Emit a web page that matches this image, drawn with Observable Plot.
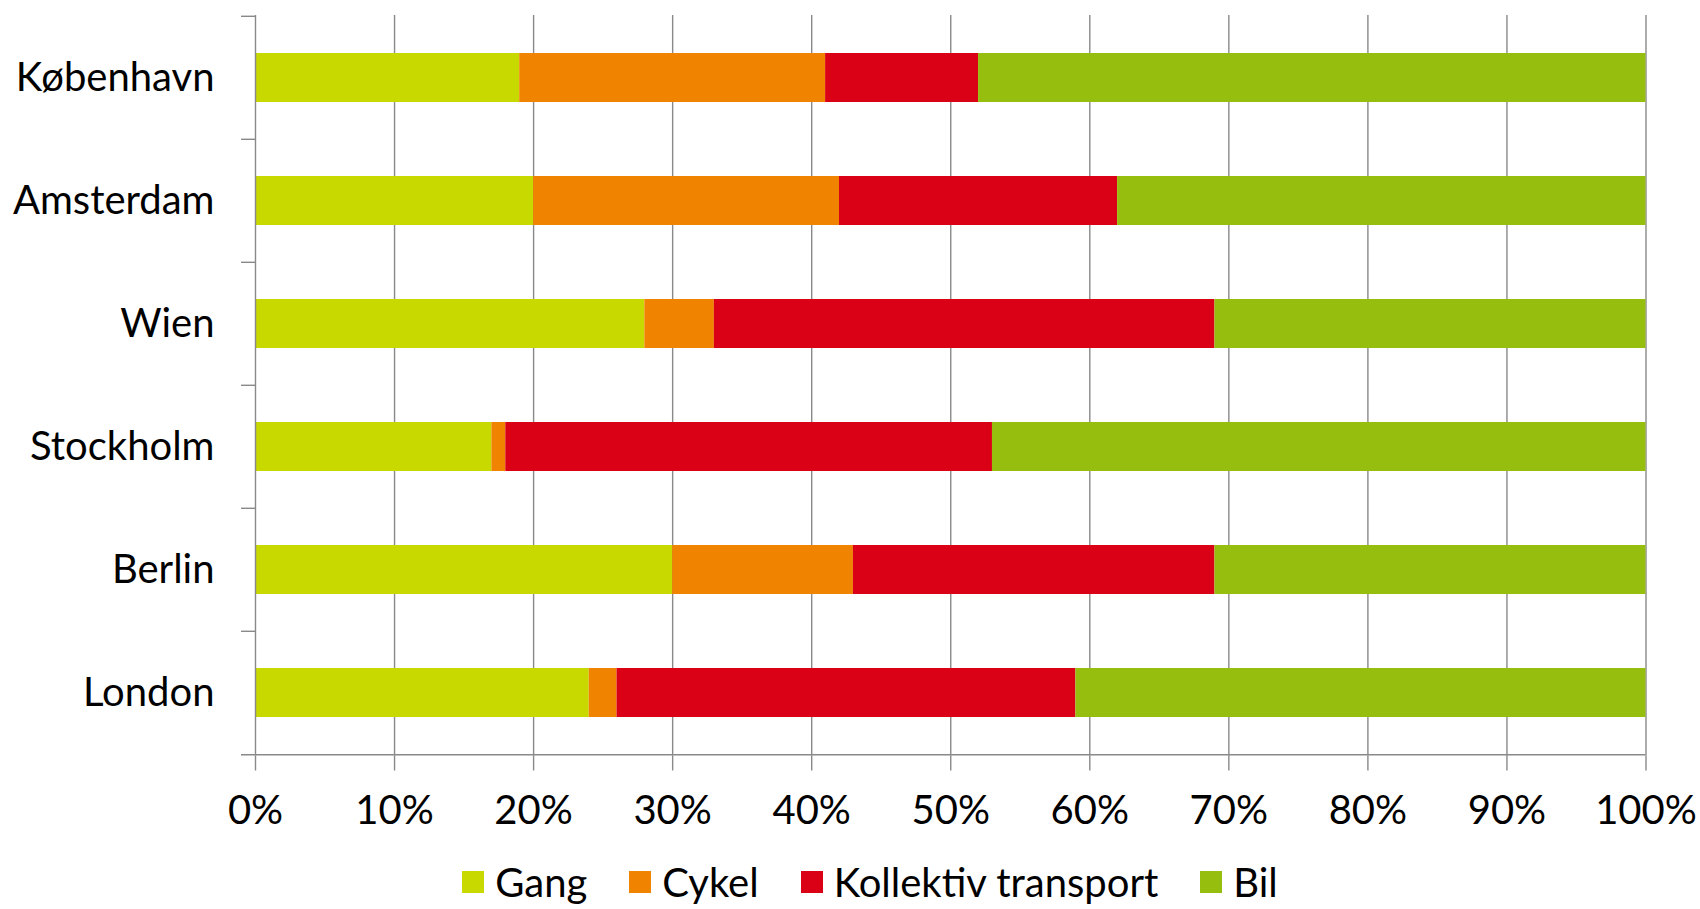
<!DOCTYPE html>
<html>
<head>
<meta charset="utf-8">
<script src="https://cdn.jsdelivr.net/npm/d3@7"></script>
<script src="https://cdn.jsdelivr.net/npm/@observablehq/plot@0.6"></script>
<style>
  html, body { margin: 0; padding: 0; background: #fff; }
  #chart { width: 1700px; }
  .legend { display: flex; justify-content: center; align-items: center; height: 50px; padding-top: 12px; padding-left: 40px; font-family: Lato, sans-serif; font-size: 40px; color: #000; }
  .legend .item { display: flex; align-items: center; margin: 0 21px; }
  .legend .sw { width: 22px; height: 22px; margin-right: 11px; }
</style>
</head>
<body>
<div id="chart"></div>
<script>
const cities = ["København", "Amsterdam", "Wien", "Stockholm", "Berlin", "London"];
const modes = ["Gang", "Cykel", "Kollektiv transport", "Bil"];
const modeColors = ["#C8D900", "#F08300", "#DA0016", "#96BE0F"];
const gang = [19, 20, 28, 17, 30, 24];
const cykel = [22, 22, 5, 1, 13, 2];
const kollektiv = [11, 20, 36, 35, 26, 33];
const bil = [48, 38, 31, 47, 31, 41];
const xTicks = [0, 0.1, 0.2, 0.3, 0.4, 0.5, 0.6, 0.7, 0.8, 0.9, 1];

const series = [gang, cykel, kollektiv, bil];
const data = [];
cities.forEach((c, i) => {
  modes.forEach((m, j) => data.push({city: c, mode: m, value: series[j][i] / 100}));
});

const W = 1700, H = 845, mTop = 15, mBottom = 89.5, mLeft = 255, mRight = 54.5;
const step = (H - mTop - mBottom) / cities.length;
const grey = "#898989";
const fontFamily = "Lato, sans-serif";

const plot = Plot.plot({
  width: W, height: H,
  marginTop: mTop, marginBottom: mBottom, marginLeft: mLeft, marginRight: mRight,
  style: {fontFamily, fontSize: "40px", color: "#000", background: "#fff"},
  x: {domain: [0, 1]},
  y: {domain: cities, paddingInner: 0.6, paddingOuter: 0.3},
  color: {domain: modes, range: modeColors},
  marks: [
    Plot.ruleX(xTicks.slice(1), {stroke: grey, strokeWidth: 1.4}),
    Plot.barX(data, {x: "value", y: "city", fill: "mode", order: modes}),
    Plot.ruleX([0], {stroke: grey, strokeWidth: 1.4}),
    Plot.ruleY(cities, {y: d => d, x1: 0, x2: 0, insetLeft: -14, dy: -step / 2, stroke: grey, strokeWidth: 1.4}),
    Plot.ruleY([cities[cities.length - 1]], {y: d => d, x1: 0, x2: 1, insetLeft: -14, dy: step / 2, stroke: grey, strokeWidth: 1.4}),
    Plot.axisX({ticks: xTicks, tickFormat: d3.format(".0%"), tickSize: 15, tickPadding: 25, stroke: grey, strokeWidth: 1.4, fontSize: 40, label: null}),
    Plot.axisY({tickSize: 0, tickPadding: 41, fontSize: 40, label: null})
  ]
});
document.getElementById("chart").appendChild(plot);

const legend = document.createElement("div");
legend.className = "legend";
modes.forEach((m, j) => {
  const item = document.createElement("div");
  item.className = "item";
  const sw = document.createElement("span");
  sw.className = "sw";
  sw.style.background = modeColors[j];
  const t = document.createElement("span");
  t.textContent = m;
  item.appendChild(sw);
  item.appendChild(t);
  legend.appendChild(item);
});
document.getElementById("chart").appendChild(legend);
</script>
</body>
</html>
